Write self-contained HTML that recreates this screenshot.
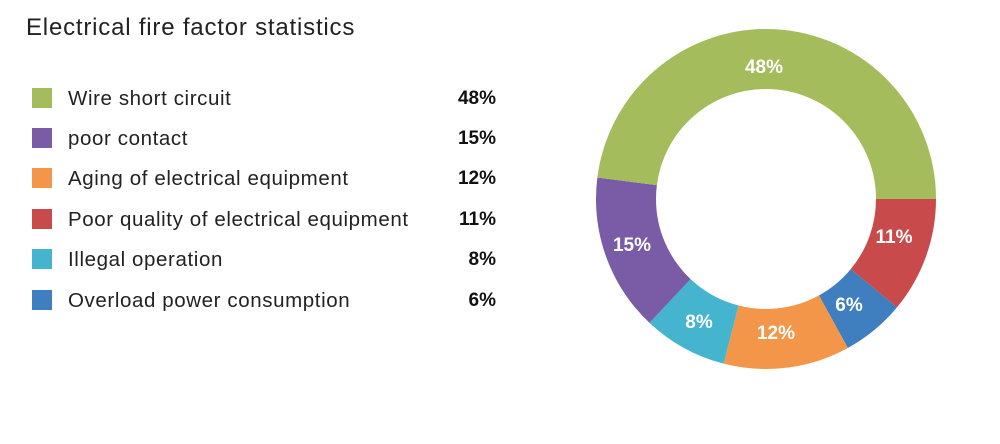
<!DOCTYPE html>
<html><head><meta charset="utf-8"><style>
html,body{margin:0;padding:0;background:#fff;}
body{width:1000px;height:444px;overflow:hidden;position:relative;font-family:"Liberation Sans",sans-serif;}
.t{position:absolute;left:26px;top:14px;font-size:24px;color:#222;letter-spacing:0.8px;}
.row{position:absolute;left:32px;height:22px;width:464px;}
.sq{position:absolute;left:0;top:1px;width:20px;height:20px;}
.lb{position:absolute;left:36px;top:0px;font-size:20.5px;color:#222;white-space:nowrap;letter-spacing:0.6px;}
.pc{position:absolute;right:0;top:1px;font-size:19px;font-weight:bold;color:#111;}
svg{position:absolute;left:0;top:0;}
</style></head><body>
<div class="t">Electrical fire factor statistics</div>
<div class="row" style="top:87px"><div class="sq" style="background:#a5bc5d"></div><div class="lb">Wire short circuit</div><div class="pc">48%</div></div>
<div class="row" style="top:127px"><div class="sq" style="background:#7a5ca6"></div><div class="lb">poor contact</div><div class="pc">15%</div></div>
<div class="row" style="top:167px"><div class="sq" style="background:#f3964a"></div><div class="lb">Aging of electrical equipment</div><div class="pc">12%</div></div>
<div class="row" style="top:208px"><div class="sq" style="background:#c94a4a"></div><div class="lb">Poor quality of electrical equipment</div><div class="pc">11%</div></div>
<div class="row" style="top:248px"><div class="sq" style="background:#45b5cf"></div><div class="lb">Illegal operation</div><div class="pc">8%</div></div>
<div class="row" style="top:289px"><div class="sq" style="background:#3f7fbf"></div><div class="lb">Overload power consumption</div><div class="pc">6%</div></div>
<svg width="1000" height="444">
<g fill="none" stroke-width="60">
<circle cx="766" cy="199" r="140" stroke="#c94a4a" stroke-dasharray="96.76 900" stroke-dashoffset="0"/>
<circle cx="766" cy="199" r="140" stroke="#3f7fbf" stroke-dasharray="52.78 900" stroke-dashoffset="-96.76"/>
<circle cx="766" cy="199" r="140" stroke="#f3964a" stroke-dasharray="105.56 900" stroke-dashoffset="-149.54"/>
<circle cx="766" cy="199" r="140" stroke="#45b5cf" stroke-dasharray="70.37 900" stroke-dashoffset="-255.10"/>
<circle cx="766" cy="199" r="140" stroke="#7a5ca6" stroke-dasharray="131.95 900" stroke-dashoffset="-325.47"/>
<circle cx="766" cy="199" r="140" stroke="#a5bc5d" stroke-dasharray="422.23 900" stroke-dashoffset="-457.42"/>
</g>
<g fill="#fff" font-family="Liberation Sans,sans-serif" font-weight="bold" font-size="19" text-anchor="middle">
<text x="764" y="73">48%</text>
<text x="632" y="251">15%</text>
<text x="699" y="328">8%</text>
<text x="776" y="339">12%</text>
<text x="849" y="311">6%</text>
<text x="894" y="243">11%</text>
</g>
</svg>
</body></html>
